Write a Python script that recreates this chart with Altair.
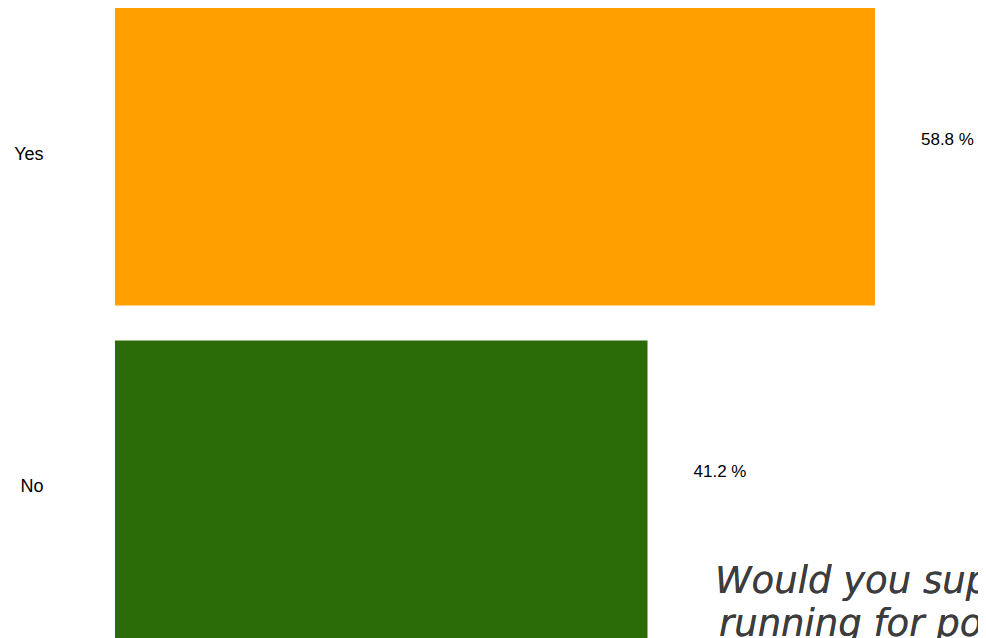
import altair as alt
import pandas as pd

categories = ["Yes", "No"]
values = [58.8, 41.2]
colors = ["#FFA000", "#2B6B08"]
value_labels = ["58.8 %", "41.2 %"]
question_line1 = "Would you support"
question_line2 = "running for political office?"

df = pd.DataFrame({"answer": categories, "pct": values, "label": value_labels})

W, H = 863, 630

y_enc = alt.Y(
    "answer:N",
    sort=categories,
    scale=alt.Scale(paddingInner=0.105, paddingOuter=0),
    axis=alt.Axis(
        title=None, domain=False, ticks=False, grid=False,
        labelPadding=72, labelFont="Liberation Sans", labelFontSize=18,
        labelColor="#000000", labelAlign="right", labelOffset=-2,
    ),
)
x_scale = alt.Scale(domain=[0, 66.77], nice=False, zero=True)

bars = alt.Chart(df).mark_bar().encode(
    x=alt.X("pct:Q", scale=x_scale, axis=None),
    y=y_enc,
    color=alt.Color("answer:N", scale=alt.Scale(domain=categories, range=colors), legend=None),
)

labels = alt.Chart(df).mark_text(
    align="left", baseline="middle", dx=46, dy=-17,
    font="Liberation Sans", fontSize=17, color="#000000",
).encode(
    x=alt.X("pct:Q", scale=x_scale, axis=None),
    y=alt.Y("answer:N", sort=categories),
    text="label:N",
)

q1 = alt.Chart(df).mark_text(
    align="left", baseline="alphabetic", font="DejaVu Sans", fontStyle="italic",
    fontSize=37, color="#3d3d3d", clip=True,
).encode(x=alt.value(600), y=alt.value(585), text=alt.value(question_line1))

q2 = alt.Chart(df).mark_text(
    align="left", baseline="alphabetic", font="DejaVu Sans", fontStyle="italic",
    fontSize=37, color="#3d3d3d", clip=True,
).encode(x=alt.value(604), y=alt.value(628), text=alt.value(question_line2))

chart = alt.layer(bars, labels, q1, q2).properties(
    width=W, height=H,
    autosize=alt.AutoSizeParams(type="none"),
    padding={"left": 107, "top": 0, "right": 0, "bottom": 0},
).configure(background="#ffffff").configure_view(stroke=None, strokeWidth=0)

chart.save("out.html", embed_options={"renderer": "svg", "actions": False})
